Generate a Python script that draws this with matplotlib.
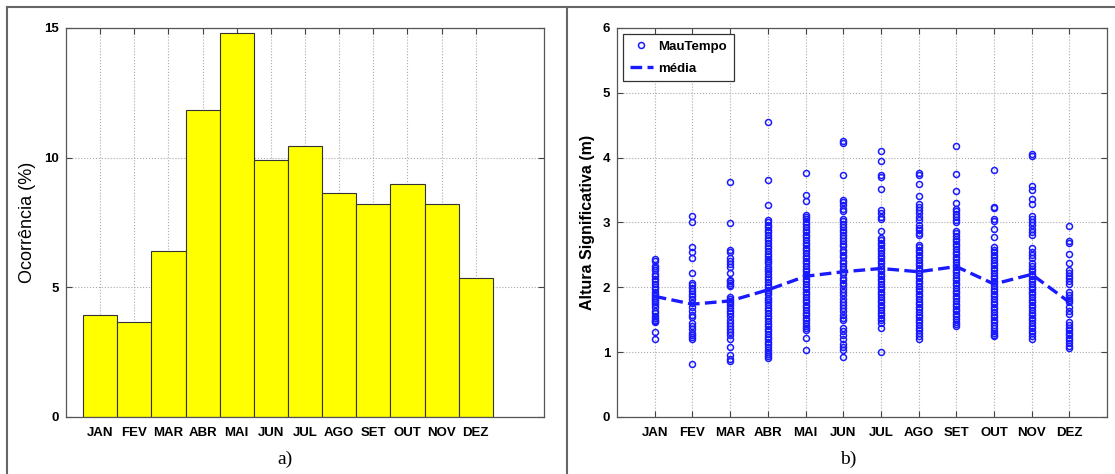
import matplotlib
matplotlib.use("Agg")
import matplotlib.pyplot as plt
import numpy as np
from matplotlib.lines import Line2D

meses = ["JAN", "FEV", "MAR", "ABR", "MAI", "JUN", "JUL", "AGO", "SET", "OUT", "NOV", "DEZ"]
ocorrencia = [3.95, 3.65, 6.39, 11.85, 14.82, 9.92, 10.46, 8.65, 8.23, 8.98, 8.23, 5.36]

# altura significativa (m) dos eventos de mau tempo, por mes
hs_jan = [2.44, 2.40, 2.33, 2.30, 2.26, 2.21, 2.17, 2.13, 2.09, 2.05, 2.00, 1.97, 1.93, 1.90, 1.87,
          1.84, 1.80, 1.77, 1.74, 1.70, 1.64, 1.60, 1.56, 1.53, 1.50, 1.48, 1.46, 1.31, 1.21]
hs_fev = [3.10, 3.01, 2.62, 2.54, 2.45, 2.22, 2.06, 2.03, 1.99, 1.95, 1.90, 1.86, 1.82, 1.76, 1.70,
          1.64, 1.58, 1.54, 1.45, 1.40, 1.35, 1.30, 1.27, 1.24, 1.21, 0.81]
hs_mar = [3.63, 2.99, 2.58, 2.55, 2.45, 2.40, 2.36, 2.32, 2.22, 2.12, 2.10, 2.07, 2.04, 2.02, 1.85,
          1.82, 1.79, 1.76, 1.72, 1.68, 1.64, 1.60, 1.55, 1.50, 1.45, 1.40, 1.35, 1.31, 1.26, 1.20,
          1.08, 0.96, 0.90, 0.87]
hs_abr = [4.55, 3.65, 3.27, 3.04, 3.01, 2.96, 2.93, 2.88, 2.85, 2.80, 2.76, 2.73, 2.68, 2.64, 2.61,
          2.56, 2.52, 2.49, 2.44, 2.40, 2.37, 2.32, 2.28, 2.25, 2.20, 2.16, 2.13, 2.08, 2.04, 2.01,
          1.96, 1.92, 1.89, 1.84, 1.80, 1.77, 1.72, 1.68, 1.65, 1.60, 1.56, 1.53, 1.48, 1.44, 1.40,
          1.36, 1.32, 1.28, 1.24, 1.20, 1.16, 1.12, 1.08, 1.04, 1.00, 0.97, 0.94, 0.91]
hs_mai = [3.76, 3.42, 3.33, 3.12, 3.09, 3.05, 3.01, 2.97, 2.93, 2.89, 2.85, 2.81, 2.77, 2.73, 2.69,
          2.65, 2.61, 2.57, 2.53, 2.49, 2.45, 2.41, 2.37, 2.33, 2.29, 2.25, 2.21, 2.17, 2.13, 2.09,
          2.05, 2.01, 1.97, 1.93, 1.89, 1.85, 1.81, 1.77, 1.73, 1.69, 1.65, 1.61, 1.57, 1.53, 1.49,
          1.45, 1.41, 1.37, 1.34, 1.22, 1.03]
hs_jun = [4.26, 4.22, 3.73, 3.35, 3.31, 3.27, 3.21, 3.17, 3.05, 3.02, 2.97, 2.93, 2.89, 2.85, 2.80,
          2.76, 2.72, 2.67, 2.63, 2.58, 2.54, 2.50, 2.46, 2.41, 2.37, 2.33, 2.28, 2.24, 2.20, 2.15,
          2.11, 2.07, 2.03, 1.98, 1.93, 1.88, 1.82, 1.78, 1.73, 1.68, 1.63, 1.58, 1.53, 1.50, 1.38,
          1.33, 1.27, 1.20, 1.12, 1.08, 1.04, 0.93]
hs_jul = [4.10, 3.95, 3.73, 3.70, 3.52, 3.20, 3.15, 3.09, 3.05, 2.87, 2.76, 2.73, 2.69, 2.65, 2.61,
          2.57, 2.53, 2.49, 2.45, 2.41, 2.37, 2.33, 2.29, 2.25, 2.21, 2.17, 2.13, 2.09, 2.05, 2.01,
          1.97, 1.93, 1.89, 1.85, 1.81, 1.77, 1.73, 1.69, 1.65, 1.61, 1.57, 1.53, 1.50, 1.45, 1.38,
          1.00]
hs_ago = [3.77, 3.73, 3.60, 3.41, 3.28, 3.24, 3.19, 3.14, 3.09, 3.04, 2.96, 2.92, 2.88, 2.84, 2.80,
          2.66, 2.62, 2.58, 2.54, 2.50, 2.46, 2.42, 2.38, 2.34, 2.30, 2.26, 2.22, 2.18, 2.14, 2.10,
          2.06, 2.02, 1.98, 1.94, 1.90, 1.86, 1.82, 1.78, 1.74, 1.70, 1.66, 1.62, 1.58, 1.54, 1.50,
          1.46, 1.42, 1.38, 1.34, 1.30, 1.25, 1.20]
hs_set = [4.18, 3.75, 3.48, 3.30, 3.21, 3.17, 3.13, 3.08, 3.04, 3.00, 2.87, 2.83, 2.79, 2.75, 2.71,
          2.67, 2.63, 2.59, 2.55, 2.51, 2.47, 2.43, 2.39, 2.35, 2.31, 2.27, 2.23, 2.19, 2.15, 2.11,
          2.07, 2.03, 1.99, 1.95, 1.91, 1.87, 1.83, 1.79, 1.75, 1.71, 1.67, 1.63, 1.59, 1.55, 1.51,
          1.47, 1.43, 1.40]
hs_out = [3.81, 3.24, 3.22, 3.05, 3.03, 2.90, 2.78, 2.62, 2.58, 2.54, 2.50, 2.46, 2.42, 2.38, 2.34,
          2.30, 2.26, 2.22, 2.18, 2.14, 2.10, 2.06, 2.02, 1.98, 1.94, 1.90, 1.86, 1.82, 1.78, 1.74,
          1.70, 1.66, 1.62, 1.58, 1.54, 1.50, 1.46, 1.42, 1.37, 1.33, 1.30, 1.27, 1.25]
hs_nov = [4.05, 4.03, 3.57, 3.50, 3.36, 3.28, 3.10, 3.05, 3.00, 2.96, 2.90, 2.85, 2.81, 2.60, 2.55,
          2.50, 2.45, 2.38, 2.33, 2.29, 2.25, 2.21, 2.17, 2.13, 2.09, 2.05, 2.01, 1.97, 1.93, 1.89,
          1.85, 1.81, 1.77, 1.73, 1.69, 1.65, 1.61, 1.57, 1.53, 1.49, 1.45, 1.41, 1.37, 1.33, 1.29,
          1.25, 1.20]
hs_dez = [2.94, 2.72, 2.69, 2.52, 2.37, 2.26, 2.22, 2.18, 2.14, 2.10, 2.05, 1.92, 1.88, 1.84, 1.80,
          1.77, 1.69, 1.64, 1.59, 1.46, 1.42, 1.38, 1.34, 1.30, 1.26, 1.22, 1.18, 1.14, 1.10, 1.07]
hs_media = [1.86, 1.74, 1.79, 1.96, 2.17, 2.24, 2.29, 2.24, 2.32, 2.05, 2.20, 1.77]

hs_meses = [hs_jan, hs_fev, hs_mar, hs_abr, hs_mai, hs_jun, hs_jul, hs_ago, hs_set, hs_out, hs_nov, hs_dez]

azul = "#1a1aff"
tick_font = dict(family="Liberation Sans", weight="bold", size=9.5)

fig = plt.figure(figsize=(11.15, 4.74), dpi=100)
ax1 = fig.add_axes([0.0592, 0.1203, 0.4287, 0.8207])
ax2 = fig.add_axes([0.5534, 0.1203, 0.4395, 0.8207])

x = np.arange(1, 13)

# a) ocorrencia mensal
ax1.bar(x, ocorrencia, width=1.0, color="#ffff00", edgecolor="#333333", linewidth=0.8, zorder=2)
ax1.set_xlim(0, 14)
ax1.set_ylim(0, 15)
ax1.set_yticks([0, 5, 10, 15])
ax1.set_ylabel("Ocorrência (%)", family="Liberation Sans", fontsize=13)
ax1.yaxis.set_label_coords(-0.063, 0.5)

# b) altura significativa
for i, hs in enumerate(hs_meses):
    ax2.plot(np.full(len(hs), x[i]), hs, "o", mfc="none", mec=azul, ms=4.3, mew=1.1, zorder=3,
             label="MauTempo" if i == 0 else None)
ax2.plot(x, hs_media, "--", color=azul, lw=2.4, dashes=(3.5, 1.6), zorder=4, label="média")
ax2.set_xlim(0, 13)
ax2.set_ylim(0, 6)
ax2.set_yticks(range(7))
ax2.set_ylabel("Altura Significativa (m)", family="Liberation Sans", weight="bold", fontsize=11.5)
ax2.yaxis.set_label_coords(-0.045, 0.5)
leg = ax2.legend(loc="upper left", prop=dict(family="Liberation Sans", weight="bold", size=9.5),
                 fancybox=False, edgecolor="#333333", handlelength=1.8, handletextpad=0.4,
                 borderaxespad=0.45, labelspacing=0.75, borderpad=0.5, framealpha=1)
leg.get_frame().set_linewidth(0.9)

for ax in (ax1, ax2):
    ax.set_xticks(x)
    ax.set_xticklabels(meses)
    for lab in ax.get_xticklabels() + ax.get_yticklabels():
        lab.set_fontproperties(tick_font)
    ax.tick_params(direction="in", top=True, right=True, length=4, width=0.8, color="#444444")
    ax.tick_params(axis="x", pad=7)
    ax.tick_params(axis="y", pad=5)
    ax.grid(True, linestyle=":", color="#aaaaaa", linewidth=0.8, zorder=0)
    ax.set_axisbelow(True)
    for s in ax.spines.values():
        s.set_color("#555555")
        s.set_linewidth(0.9)

fig.text(0.256, 0.03, "a)", family="Liberation Serif", fontsize=14, ha="center", va="center")
fig.text(0.761, 0.03, "b)", family="Liberation Serif", fontsize=14, ha="center", va="center")

# moldura
top = 1 - 7 / 474
fig.add_artist(Line2D([7 / 1115, 1], [top, top], color="#666666", lw=1.5))
fig.add_artist(Line2D([7 / 1115, 7 / 1115], [0, top], color="#666666", lw=1.5))
fig.add_artist(Line2D([567 / 1115, 567 / 1115], [0, top], color="#666666", lw=1.5))

fig.savefig("out.png", dpi=100)
